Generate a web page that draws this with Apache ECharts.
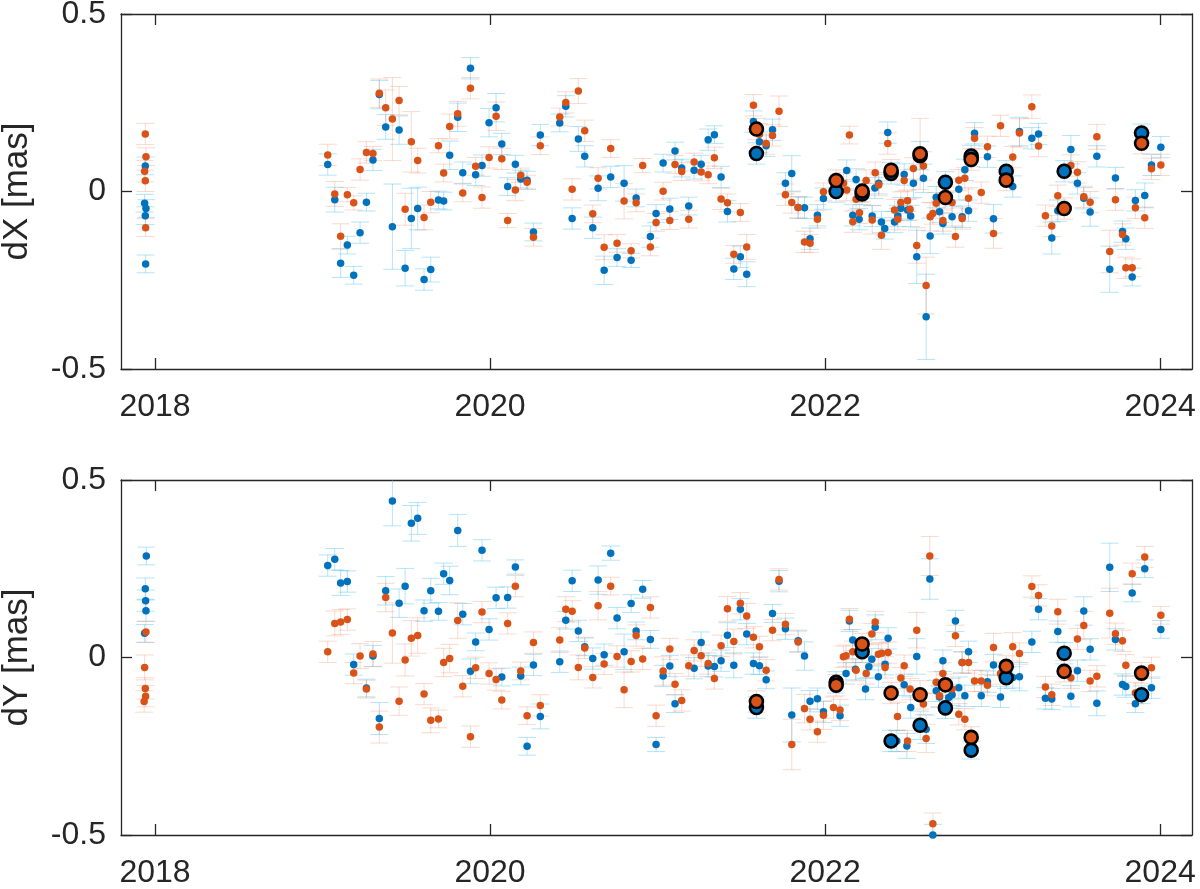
<!DOCTYPE html>
<html><head><meta charset="utf-8">
<script src="https://cdn.jsdelivr.net/npm/echarts@6/dist/echarts.min.js"></script>
<style>html,body{margin:0;padding:0;background:#fff}#c{width:1200px;height:889px}</style>
</head><body><div id="c"></div>
<script>
// tick labels
const xTicks = [2018, 2020, 2022, 2024];
const yTicks = [-0.5, 0, 0.5];
const panelNames = ['dX [mas]', 'dY [mas]'];

// each point: [epoch (decimal year), value (mas), 1-sigma error (mas)]
const dxBlue = [
[2017.942,0.072,0.025],[2017.938,-0.033,0.025],[2017.946,-0.048,0.025],[2017.942,-0.068,0.025],[2017.944,-0.204,0.025],
[2019.031,0.076,0.03],[2019.073,-0.023,0.035],[2019.108,-0.202,0.04],[2019.148,-0.151,0.025],[2019.186,-0.236,0.025],
[2019.224,-0.116,0.03],[2019.262,-0.030,0.025],[2019.301,0.089,0.03],[2019.339,0.273,0.04],[2019.377,0.182,0.035],
[2019.417,-0.099,0.12],[2019.457,0.173,0.04],[2019.493,-0.216,0.05],[2019.530,-0.076,0.085],[2019.568,-0.048,0.06],
[2019.606,-0.248,0.03],[2019.646,-0.220,0.035],[2019.692,-0.024,0.025],[2019.723,-0.027,0.025],[2019.759,0.102,0.04],
[2019.807,0.209,0.04],[2019.837,0.053,0.03],[2019.883,0.347,0.03],[2019.914,0.047,0.03],[2019.952,0.073,0.03],
[2019.994,0.194,0.04],[2020.036,0.236,0.04],[2020.070,0.134,0.03],[2020.105,0.014,0.025],[2020.151,0.077,0.025],
[2020.183,0.035,0.025],[2020.221,0.032,0.025],[2020.259,-0.114,0.025],[2020.300,0.159,0.03],[2020.416,0.193,0.025],
[2020.452,0.240,0.03],[2020.490,-0.076,0.03],[2020.527,0.148,0.035],[2020.565,0.099,0.03],[2020.613,-0.102,0.03],
[2020.645,0.009,0.035],[2020.681,-0.222,0.04],[2020.720,0.041,0.03],[2020.758,-0.186,0.025],[2020.800,0.023,0.05],
[2020.842,-0.194,0.02],[2020.872,-0.018,0.025],[2020.957,-0.127,0.03],[2020.991,-0.062,0.025],[2021.033,0.080,0.025],
[2021.073,-0.049,0.03],[2021.104,0.114,0.025],[2021.144,0.066,0.025],[2021.186,-0.041,0.025],[2021.218,0.060,0.025],
[2021.260,0.077,0.025],[2021.302,0.146,0.03],[2021.339,0.160,0.025],[2021.379,0.041,0.03],[2021.417,-0.056,0.03],
[2021.455,-0.218,0.03],[2021.494,-0.184,0.03],[2021.532,-0.233,0.035],[2021.572,0.197,0.03],[2021.608,0.140,0.03],
[2021.648,0.129,0.03],[2021.686,0.174,0.03],[2021.763,0.023,0.03],[2021.801,0.051,0.05],[2021.839,-0.045,0.03],
[2021.877,-0.046,0.03],[2021.910,-0.133,0.03],[2021.954,-0.067,0.03],[2021.990,-0.020,0.03],[2022.129,0.059,0.03],
[2022.165,-0.067,0.03],[2022.185,0.034,0.03],[2022.203,-0.078,0.03],[2022.281,-0.069,0.03],[2022.297,0.010,0.03],
[2022.320,0.023,0.03],[2022.336,-0.086,0.03],[2022.356,-0.104,0.03],[2022.374,0.166,0.03],[2022.414,-0.086,0.03],
[2022.434,-0.069,0.03],[2022.452,-0.047,0.03],[2022.472,0.048,0.03],[2022.492,-0.052,0.03],[2022.511,-0.069,0.03],
[2022.527,0.023,0.04],[2022.547,-0.184,0.075],[2022.587,0.037,0.04],[2022.603,-0.353,0.12],[2022.627,-0.125,0.05],
[2022.663,-0.016,0.03],[2022.683,-0.057,0.03],[2022.703,-0.090,0.03],[2022.758,-0.071,0.03],[2022.798,0.006,0.03],
[2022.818,-0.071,0.03],[2022.834,0.061,0.03],[2022.856,-0.054,0.03],[2022.892,0.164,0.03],[2022.969,0.098,0.03],
[2023.005,-0.077,0.04],[2023.120,0.014,0.03],[2023.160,0.169,0.04],[2023.234,0.150,0.03],[2023.274,0.162,0.03],
[2023.353,-0.131,0.045],[2023.389,-0.054,0.03],[2023.467,0.118,0.04],[2023.506,0.023,0.03],[2023.544,-0.019,0.03],
[2023.582,-0.058,0.04],[2023.622,0.099,0.03],[2023.699,-0.219,0.065],[2023.733,0.038,0.03],[2023.775,-0.113,0.03],
[2023.795,-0.133,0.03],[2023.833,-0.241,0.025],[2023.852,-0.025,0.03],[2023.908,-0.011,0.035],[2023.948,0.075,0.03],
[2024.004,0.125,0.03]
];
const dxOrange = [
[2017.942,0.162,0.03],[2017.946,0.098,0.025],[2017.938,0.057,0.03],[2017.942,0.030,0.03],[2017.944,-0.102,0.025],
[2019.031,0.103,0.03],[2019.073,-0.007,0.035],[2019.108,-0.126,0.035],[2019.148,-0.009,0.02],[2019.186,-0.032,0.02],
[2019.224,0.062,0.03],[2019.262,0.110,0.03],[2019.301,0.107,0.02],[2019.339,0.277,0.04],[2019.377,0.236,0.05],
[2019.417,0.204,0.117],[2019.457,0.256,0.04],[2019.493,-0.050,0.045],[2019.530,0.140,0.085],[2019.568,0.087,0.035],
[2019.606,-0.073,0.035],[2019.646,-0.030,0.03],[2019.692,0.129,0.02],[2019.723,0.052,0.025],[2019.759,0.183,0.035],
[2019.807,0.219,0.035],[2019.837,-0.004,0.025],[2019.883,0.291,0.03],[2019.914,0.071,0.025],[2019.952,-0.017,0.03],
[2019.994,0.096,0.03],[2020.036,0.212,0.04],[2020.070,0.092,0.03],[2020.105,-0.082,0.02],[2020.151,0.004,0.03],
[2020.183,0.046,0.02],[2020.221,0.026,0.02],[2020.259,-0.129,0.025],[2020.300,0.129,0.025],[2020.416,0.210,0.025],
[2020.452,0.251,0.03],[2020.490,0.006,0.03],[2020.527,0.283,0.035],[2020.565,0.171,0.03],[2020.613,-0.063,0.025],
[2020.645,0.037,0.03],[2020.681,-0.157,0.035],[2020.720,0.121,0.025],[2020.758,-0.146,0.025],[2020.800,-0.027,0.05],
[2020.842,-0.167,0.02],[2020.872,-0.032,0.025],[2020.911,0.073,0.02],[2020.957,-0.156,0.025],[2020.991,-0.087,0.025],
[2021.033,0.001,0.025],[2021.073,-0.082,0.025],[2021.104,0.076,0.025],[2021.144,0.056,0.025],[2021.186,-0.078,0.025],
[2021.218,0.083,0.025],[2021.260,0.055,0.025],[2021.302,0.047,0.025],[2021.339,0.095,0.03],[2021.379,-0.021,0.03],
[2021.417,-0.032,0.025],[2021.455,-0.177,0.025],[2021.494,-0.059,0.025],[2021.532,-0.156,0.035],[2021.572,0.243,0.03],
[2021.608,0.161,0.03],[2021.648,0.135,0.03],[2021.686,0.158,0.03],[2021.725,0.226,0.043],[2021.763,-0.009,0.03],
[2021.801,-0.031,0.03],[2021.839,-0.045,0.03],[2021.877,-0.142,0.03],[2021.910,-0.146,0.025],[2021.954,-0.078,0.025],
[2021.990,-0.001,0.025],[2022.110,0.023,0.03],[2022.129,0.004,0.03],[2022.145,0.159,0.025],[2022.165,-0.085,0.03],
[2022.185,-0.022,0.03],[2022.205,-0.060,0.03],[2022.245,0.031,0.03],[2022.281,-0.080,0.04],[2022.299,0.053,0.03],
[2022.320,0.018,0.03],[2022.336,-0.123,0.04],[2022.374,0.135,0.03],[2022.414,-0.052,0.03],[2022.434,-0.078,0.03],
[2022.452,-0.031,0.03],[2022.472,0.031,0.03],[2022.492,-0.026,0.03],[2022.507,-0.050,0.03],[2022.527,0.065,0.03],
[2022.547,-0.152,0.05],[2022.587,0.072,0.04],[2022.603,-0.265,0.08],[2022.627,-0.071,0.04],[2022.643,-0.062,0.03],
[2022.663,-0.033,0.03],[2022.703,-0.082,0.03],[2022.758,-0.031,0.03],[2022.778,-0.127,0.03],[2022.798,0.032,0.03],
[2022.818,-0.076,0.03],[2022.834,0.037,0.03],[2022.856,-0.019,0.03],[2022.892,0.150,0.03],[2022.932,-0.003,0.03],
[2022.969,0.126,0.03],[2023.005,-0.118,0.042],[2023.047,0.185,0.03],[2023.120,0.097,0.03],[2023.160,0.165,0.04],
[2023.234,0.239,0.033],[2023.274,0.128,0.03],[2023.315,-0.068,0.03],[2023.353,-0.097,0.03],[2023.389,-0.012,0.03],
[2023.467,0.073,0.03],[2023.506,0.054,0.03],[2023.544,-0.015,0.03],[2023.582,-0.030,0.03],[2023.622,0.154,0.035],
[2023.699,-0.169,0.06],[2023.733,-0.023,0.03],[2023.775,-0.121,0.03],[2023.795,-0.215,0.03],[2023.833,-0.215,0.025],
[2023.852,-0.046,0.03],[2023.908,-0.074,0.03],[2023.948,0.064,0.03],[2024.004,0.075,0.03]
];
const dxBlueMarked = [
[2021.590,0.107,0.03],[2022.066,0.000,0.03],[2022.221,-0.007,0.03],[2022.394,0.051,0.03],[2022.567,0.101,0.04],
[2022.718,0.026,0.03],[2022.872,0.100,0.03],[2023.081,0.057,0.03],[2023.427,0.057,0.03],[2023.889,0.165,0.025]
];
const dxOrangeMarked = [
[2021.590,0.176,0.03],[2022.066,0.031,0.03],[2022.221,0.001,0.03],[2022.394,0.060,0.03],[2022.567,0.106,0.1],
[2022.718,-0.017,0.03],[2022.872,0.090,0.03],[2023.081,0.032,0.03],[2023.427,-0.048,0.03],[2023.889,0.136,0.03]
];

const dyBlue = [
[2017.948,0.286,0.025],[2017.942,0.194,0.03],[2017.944,0.160,0.03],[2017.946,0.132,0.03],[2017.938,0.068,0.025],
[2019.031,0.259,0.03],[2019.073,0.277,0.03],[2019.108,0.210,0.035],[2019.148,0.214,0.03],[2019.186,-0.020,0.03],
[2019.262,-0.086,0.025],[2019.301,0.004,0.03],[2019.339,-0.172,0.045],[2019.377,0.188,0.04],[2019.417,0.441,0.07],
[2019.457,0.153,0.04],[2019.493,0.201,0.05],[2019.530,0.378,0.05],[2019.568,0.392,0.045],[2019.606,0.132,0.03],
[2019.646,0.188,0.035],[2019.692,0.130,0.025],[2019.723,0.236,0.03],[2019.759,0.217,0.04],[2019.807,0.358,0.045],
[2019.837,0.122,0.03],[2019.883,-0.039,0.035],[2019.914,0.044,0.025],[2019.952,0.302,0.03],[2019.994,0.079,0.03],
[2020.036,0.168,0.03],[2020.070,-0.055,0.025],[2020.105,0.169,0.03],[2020.151,0.255,0.02],[2020.183,-0.052,0.025],
[2020.221,-0.250,0.025],[2020.259,-0.021,0.03],[2020.300,-0.166,0.035],[2020.416,-0.012,0.03],[2020.452,0.105,0.025],
[2020.490,0.216,0.03],[2020.527,0.075,0.03],[2020.565,0.030,0.025],[2020.613,-0.003,0.03],[2020.645,0.218,0.04],
[2020.681,0.008,0.03],[2020.720,0.294,0.02],[2020.758,0.111,0.03],[2020.800,0.016,0.05],[2020.842,0.152,0.025],
[2020.872,0.075,0.025],[2020.911,0.192,0.025],[2020.957,0.051,0.025],[2020.991,-0.245,0.02],[2021.033,-0.052,0.03],
[2021.073,-0.024,0.03],[2021.104,-0.130,0.025],[2021.218,-0.030,0.03],[2021.260,0.042,0.03],[2021.302,-0.024,0.03],
[2021.339,-0.025,0.03],[2021.379,-0.009,0.03],[2021.417,0.063,0.035],[2021.455,-0.022,0.035],[2021.494,0.136,0.03],
[2021.532,0.066,0.03],[2021.572,-0.017,0.03],[2021.608,-0.023,0.025],[2021.648,-0.063,0.025],[2021.686,0.124,0.025],
[2021.725,0.215,0.03],[2021.763,0.081,0.03],[2021.801,-0.162,0.076],[2021.839,0.047,0.03],[2021.877,0.004,0.04],
[2021.910,-0.123,0.03],[2021.954,-0.116,0.03],[2021.990,-0.153,0.03],[2022.089,-0.164,0.03],[2022.125,-0.045,0.03],
[2022.145,0.103,0.03],[2022.165,0.049,0.03],[2022.181,-0.033,0.03],[2022.241,-0.089,0.03],[2022.261,-0.026,0.03],
[2022.279,-0.005,0.03],[2022.299,0.085,0.035],[2022.318,-0.054,0.03],[2022.358,-0.019,0.03],[2022.376,0.054,0.03],
[2022.428,-0.235,0.03],[2022.472,-0.077,0.03],[2022.488,-0.249,0.035],[2022.511,-0.141,0.03],[2022.547,0.003,0.05],
[2022.603,-0.202,0.04],[2022.625,0.221,0.057],[2022.643,-0.500,0.03],[2022.663,-0.094,0.03],[2022.683,-0.111,0.03],
[2022.703,-0.009,0.03],[2022.738,-0.113,0.03],[2022.758,-0.105,0.03],[2022.778,0.103,0.03],[2022.798,-0.085,0.03],
[2022.818,-0.014,0.03],[2022.834,-0.108,0.03],[2022.856,0.016,0.03],[2022.932,-0.108,0.03],[2022.969,-0.068,0.03],
[2023.005,-0.021,0.03],[2023.047,-0.111,0.03],[2023.120,-0.056,0.03],[2023.160,-0.054,0.04],[2023.234,0.044,0.03],
[2023.274,0.136,0.03],[2023.315,-0.115,0.03],[2023.353,-0.117,0.03],[2023.389,0.073,0.03],[2023.467,-0.109,0.03],
[2023.506,-0.037,0.03],[2023.544,0.131,0.04],[2023.582,0.023,0.03],[2023.622,-0.129,0.035],[2023.699,0.254,0.068],
[2023.733,0.051,0.03],[2023.775,-0.076,0.03],[2023.795,-0.082,0.03],[2023.833,0.182,0.025],[2023.852,-0.130,0.025],
[2023.908,0.250,0.025],[2023.948,-0.085,0.03],[2024.004,0.079,0.025]
];
const dyOrange = [
[2017.946,0.072,0.03],[2017.938,-0.028,0.035],[2017.942,-0.087,0.03],[2017.944,-0.109,0.03],[2017.935,-0.124,0.03],
[2019.031,0.016,0.03],[2019.073,0.096,0.035],[2019.108,0.100,0.035],[2019.148,0.107,0.03],[2019.186,-0.044,0.03],
[2019.224,0.004,0.035],[2019.262,-0.089,0.025],[2019.301,0.010,0.035],[2019.339,-0.196,0.045],[2019.377,0.169,0.04],
[2019.417,0.069,0.085],[2019.457,-0.123,0.04],[2019.493,-0.007,0.045],[2019.530,0.054,0.05],[2019.568,0.062,0.05],
[2019.606,-0.103,0.03],[2019.646,-0.177,0.035],[2019.692,-0.173,0.025],[2019.723,-0.014,0.04],[2019.759,-0.003,0.04],
[2019.807,0.104,0.05],[2019.837,-0.081,0.03],[2019.883,-0.223,0.03],[2019.914,-0.029,0.03],[2019.952,0.128,0.03],
[2019.994,-0.045,0.03],[2020.036,-0.062,0.03],[2020.070,-0.120,0.025],[2020.105,0.096,0.03],[2020.151,0.201,0.03],
[2020.183,-0.038,0.025],[2020.221,-0.164,0.025],[2020.259,0.042,0.03],[2020.300,-0.135,0.03],[2020.416,0.049,0.035],
[2020.452,0.136,0.035],[2020.490,0.130,0.03],[2020.527,-0.028,0.035],[2020.565,0.027,0.03],[2020.613,-0.056,0.03],
[2020.645,0.146,0.04],[2020.681,-0.018,0.03],[2020.720,0.201,0.025],[2020.758,0.003,0.03],[2020.800,-0.091,0.05],
[2020.842,-0.011,0.03],[2020.872,0.062,0.03],[2020.911,-0.004,0.03],[2020.957,0.141,0.03],[2020.991,-0.164,0.03],
[2021.033,-0.038,0.04],[2021.073,0.024,0.03],[2021.104,-0.075,0.03],[2021.144,-0.121,0.03],[2021.186,-0.023,0.03],
[2021.218,0.020,0.03],[2021.260,0.005,0.03],[2021.302,-0.017,0.03],[2021.339,-0.059,0.03],[2021.379,0.033,0.03],
[2021.417,0.137,0.035],[2021.455,0.045,0.035],[2021.494,0.153,0.03],[2021.532,0.117,0.035],[2021.572,0.057,0.03],
[2021.608,0.030,0.03],[2021.648,-0.036,0.03],[2021.686,0.077,0.03],[2021.725,0.220,0.03],[2021.763,0.094,0.03],
[2021.801,-0.245,0.071],[2021.839,0.044,0.03],[2021.877,-0.144,0.04],[2021.910,-0.174,0.03],[2021.954,-0.209,0.03],
[2021.990,-0.163,0.04],[2022.050,-0.141,0.03],[2022.089,-0.148,0.03],[2022.109,0.002,0.03],[2022.125,0.005,0.03],
[2022.145,0.108,0.03],[2022.165,0.016,0.03],[2022.185,-0.036,0.03],[2022.245,-0.045,0.03],[2022.279,0.066,0.03],
[2022.299,0.100,0.03],[2022.318,0.009,0.03],[2022.338,0.012,0.03],[2022.358,-0.028,0.03],[2022.376,0.014,0.03],
[2022.432,-0.166,0.04],[2022.452,-0.058,0.03],[2022.472,-0.023,0.03],[2022.492,-0.235,0.03],[2022.507,-0.089,0.03],
[2022.547,0.077,0.05],[2022.587,-0.131,0.03],[2022.603,-0.228,0.04],[2022.625,0.286,0.055],[2022.643,-0.468,0.03],
[2022.663,-0.070,0.03],[2022.683,-0.108,0.03],[2022.703,-0.045,0.03],[2022.758,-0.089,0.03],[2022.778,0.061,0.03],
[2022.798,-0.160,0.03],[2022.818,-0.014,0.03],[2022.834,-0.174,0.03],[2022.856,-0.014,0.03],[2022.892,-0.066,0.03],
[2022.932,-0.066,0.03],[2022.969,-0.078,0.03],[2023.005,0.028,0.04],[2023.047,-0.045,0.03],[2023.120,0.030,0.04],
[2023.160,0.011,0.03],[2023.234,0.200,0.03],[2023.274,0.175,0.03],[2023.315,-0.083,0.03],[2023.353,-0.105,0.03],
[2023.389,0.129,0.035],[2023.467,-0.057,0.03],[2023.506,0.052,0.03],[2023.544,0.090,0.04],[2023.582,-0.066,0.03],
[2023.622,-0.053,0.03],[2023.699,0.125,0.07],[2023.733,0.067,0.03],[2023.775,0.047,0.03],[2023.795,-0.022,0.03],
[2023.833,0.236,0.03],[2023.852,-0.100,0.03],[2023.908,0.283,0.03],[2023.948,-0.029,0.03],[2024.004,0.119,0.025]
];
const dyBlueMarked = [
[2021.590,-0.141,0.03],[2022.066,-0.070,0.03],[2022.221,0.016,0.03],[2022.394,-0.235,0.03],[2022.567,-0.191,0.04],
[2022.718,-0.142,0.03],[2022.872,-0.261,0.025],[2023.081,-0.057,0.03],[2023.427,0.012,0.03],[2023.889,-0.105,0.025]
];
const dyOrangeMarked = [
[2021.590,-0.124,0.03],[2022.066,-0.078,0.03],[2022.221,0.038,0.03],[2022.394,-0.100,0.03],[2022.567,-0.105,0.04],
[2022.718,-0.077,0.03],[2022.872,-0.225,0.03],[2023.081,-0.025,0.03],[2023.427,-0.039,0.03],[2023.889,-0.044,0.03]
];

const FONT = '"Liberation Sans", Helvetica, Arial, sans-serif';
const AX = '#262626';
const BLUE = '#0072BD', ORANGE = '#D95319';
const BLUE_ERR = 'rgba(77,190,238,0.42)', ORANGE_ERR = 'rgba(240,130,90,0.30)';
const X_MIN = 2017.797, X_MAX = 2024.19;

function xAxisDef(grid, pos, showLabel) {
  return {
    type: 'value', gridIndex: grid, position: pos, min: X_MIN, max: X_MAX,
    axisLine: { show: true, onZero: false, lineStyle: { color: AX, width: 1.3 } },
    axisTick: { show: true, inside: true, length: 11, customValues: xTicks, lineStyle: { color: AX, width: 1.3 } },
    axisLabel: { show: showLabel, customValues: xTicks, margin: 22, fontSize: 32, fontFamily: FONT, color: AX,
      formatter: v => String(Math.round(v)) },
    splitLine: { show: false }
  };
}
function yAxisDef(grid, pos, showLabel, name) {
  return {
    type: 'value', gridIndex: grid, position: pos, min: -0.5, max: 0.5, interval: 0.5,
    name: name || '', nameLocation: 'middle', nameRotate: 90, nameGap: 86,
    nameTextStyle: { fontSize: 35, fontFamily: FONT, color: AX },
    axisLine: { show: true, onZero: false, lineStyle: { color: AX, width: 1.3 } },
    axisTick: { show: true, inside: true, length: 11, lineStyle: { color: AX, width: 1.3 } },
    axisLabel: { show: showLabel, margin: 15, fontSize: 32, fontFamily: FONT, color: AX,
      formatter: v => (Math.abs(v) < 1e-9 ? '0' : String(v)) },
    splitLine: { show: false }
  };
}
function errSeries(data, color, lw, xi, yi, z) {
  return {
    type: 'custom', xAxisIndex: xi, yAxisIndex: yi, clip: true, silent: true, z: z,
    encode: { x: 0, y: 1 },
    renderItem: (p, api) => {
      const t = api.value(0), v = api.value(1), e = api.value(2);
      const a = api.coord([t, v + e]), b = api.coord([t, v - e]);
      const hw = 9;
      const st = { stroke: color, lineWidth: lw };
      return { type: 'group', children: [
        { type: 'line', shape: { x1: a[0], y1: a[1], x2: b[0], y2: b[1] }, style: st },
        { type: 'line', shape: { x1: a[0] - hw, y1: a[1], x2: a[0] + hw, y2: a[1] }, style: st },
        { type: 'line', shape: { x1: b[0] - hw, y1: b[1], x2: b[0] + hw, y2: b[1] }, style: st }
      ]};
    },
    data: data
  };
}
function dotSeries(data, color, size, border, xi, yi, z) {
  return {
    type: 'scatter', xAxisIndex: xi, yAxisIndex: yi, clip: true, silent: true, z: z,
    symbol: 'circle', symbolSize: size, encode: { x: 0, y: 1 },
    itemStyle: border ? { color: color, borderColor: '#000', borderWidth: 2.6, opacity: 1 } : { color: color, opacity: 1 },
    data: data
  };
}
function panel(k, blue, orange, blueM, orangeM) {
  const xi = k * 2, yi = k * 2;
  return [
    errSeries(blue, BLUE_ERR, 1, xi, yi, 1),
    errSeries(orange, ORANGE_ERR, 1, xi, yi, 1),
    errSeries(blueM, BLUE_ERR, 1, xi, yi, 2),
    errSeries(orangeM, ORANGE_ERR, 1, xi, yi, 2),
    dotSeries(blue, BLUE, 7.5, false, xi, yi, 3),
    dotSeries(orange, ORANGE, 7.5, false, xi, yi, 4),
    dotSeries(blueM, BLUE, 13, true, xi, yi, 5),
    dotSeries(orangeM, ORANGE, 13, true, xi, yi, 6)
  ];
}

const chart = echarts.init(document.getElementById('c'), null, { renderer: 'canvas' });
chart.setOption({
  animation: false,
  backgroundColor: '#fff',
  grid: [
    { left: 121, right: 8, top: 14, height: 355, outerBoundsMode: 'none', containLabel: false },
    { left: 121, right: 8, top: 480, height: 355, outerBoundsMode: 'none', containLabel: false }
  ],
  xAxis: [xAxisDef(0, 'bottom', true), xAxisDef(0, 'top', false), xAxisDef(1, 'bottom', true), xAxisDef(1, 'top', false)],
  yAxis: [yAxisDef(0, 'left', true, panelNames[0]), yAxisDef(0, 'right', false), yAxisDef(1, 'left', true, panelNames[1]), yAxisDef(1, 'right', false)],
  series: [].concat(
    panel(0, dxBlue, dxOrange, dxBlueMarked, dxOrangeMarked),
    panel(1, dyBlue, dyOrange, dyBlueMarked, dyOrangeMarked)
  )
});
</script>
</body></html>
